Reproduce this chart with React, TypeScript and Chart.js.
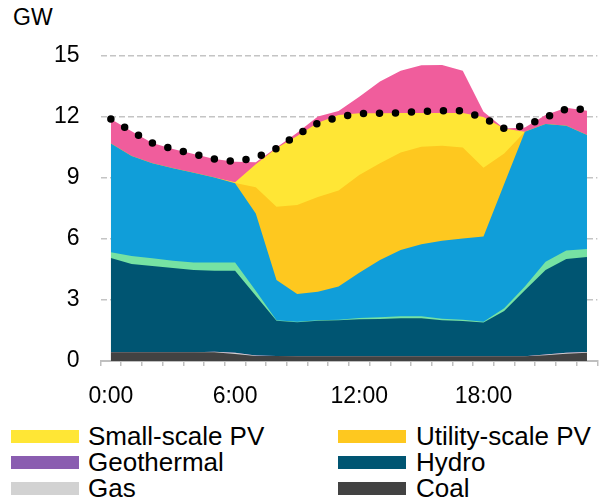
import React, { useEffect, useRef } from 'react';
import { Chart, registerables } from 'chart.js';

Chart.register(...registerables);

const FONT = '"Liberation Sans", Arial, Helvetica, sans-serif';

const CATEGORIES = [
  '0:00', '1:00', '2:00', '3:00', '4:00', '5:00', '6:00', '7:00', '8:00', '9:00', '10:00', '11:00',
  '12:00', '13:00', '14:00', '15:00', '16:00', '17:00', '18:00', '19:00', '20:00', '21:00', '22:00', '23:00',
];

const Y_TICKS = [0, 3, 6, 9, 12, 15];

// GW, stacked bottom to top
const COAL = [0.43, 0.43, 0.43, 0.43, 0.43, 0.43, 0.34, 0.25, 0.24, 0.23, 0.23, 0.23, 0.23, 0.23, 0.23, 0.23, 0.23, 0.23, 0.23, 0.23, 0.23, 0.28, 0.36, 0.41];
const GAS = [0, 0, 0, 0, 0, 0.02, 0.06, 0.02, 0, 0, 0, 0, 0, 0, 0, 0, 0, 0, 0, 0, 0, 0.04, 0.05, 0.03];
const GEOTHERMAL = [0, 0, 0, 0, 0, 0, 0, 0, 0, 0, 0, 0, 0, 0, 0, 0, 0, 0, 0, 0, 0, 0, 0, 0];
const HYDRO = [4.64, 4.34, 4.24, 4.14, 4.05, 3.99, 4.04, 2.94, 1.74, 1.68, 1.75, 1.77, 1.82, 1.83, 1.87, 1.87, 1.77, 1.74, 1.66, 2.23, 3.25, 4.16, 4.61, 4.68];
const WIND = [0.28, 0.39, 0.38, 0.36, 0.37, 0.4, 0.41, 0.25, 0.03, 0.02, 0.03, 0.03, 0.07, 0.09, 0.1, 0.1, 0.08, 0.06, 0.04, 0.13, 0.18, 0.4, 0.41, 0.39];
const IMPORTS = [5.35, 4.92, 4.67, 4.55, 4.41, 4.18, 3.89, 3.8, 1.97, 1.37, 1.4, 1.63, 2.22, 2.82, 3.26, 3.54, 3.84, 3.99, 4.19, 6.11, 7.62, 6.78, 6.14, 5.61];
const UTILITY_PV = [0, 0, 0, 0, 0, 0, 0.02, 1.28, 3.61, 4.37, 4.65, 4.72, 4.81, 4.75, 4.79, 4.8, 4.67, 4.48, 3.39, 1.51, 0, 0, 0, 0];
const SMALL_PV = [0, 0, 0, 0, 0, 0, 0.03, 1.14, 2.87, 3.4, 3.66, 3.72, 3.03, 2.46, 1.95, 1.66, 1.61, 1.7, 2.49, 1.23, 0, 0, 0, 0];
const EXPORTS = [1.2, 1.22, 1.0, 0.95, 0.92, 0.91, 1.01, 0.1, 0.04, 0.15, 0.3, 0.2, 0.82, 1.57, 2.08, 2.34, 2.36, 2.08, 0.26, 0, 0.2, 0.44, 0.89, 1.19];
const DEMAND = [11.9, 11.3, 10.72, 10.43, 10.18, 9.93, 9.8, 10.0, 10.45, 11.12, 11.7, 12.0, 12.17, 12.18, 12.2, 12.28, 12.31, 12.3, 11.96, 11.44, 11.56, 11.98, 12.4, 12.38];

const LEGEND_LABELS = ['Small-scale PV', 'Utility-scale PV', 'Geothermal', 'Hydro', 'Gas', 'Coal'];

const COLORS: Record<string, string> = {
  'Small-scale PV': '#ffe635',
  'Utility-scale PV': '#fec81f',
  Geothermal: '#8a5db0',
  Hydro: '#005572',
  Gas: '#d2d2d2',
  Coal: '#424242',
  Wind: '#76e2a3',
  Imports: '#109ed9',
  Exports: '#f05d9c',
};

function area(label: string, data: number[]) {
  const c = COLORS[label];
  return {
    label,
    data,
    backgroundColor: c,
    borderColor: c,
    borderWidth: 0,
    pointRadius: 0,
    pointHoverRadius: 0,
    fill: 'origin',
    tension: 0,
    stack: 'gen',
    order: 0,
  };
}

export default function App() {
  const ref = useRef<HTMLCanvasElement | null>(null);

  useEffect(() => {
    if (!ref.current) return;
    const chart = new Chart(ref.current, {
      type: 'line',
      data: {
        labels: CATEGORIES,
        datasets: [
          area('Coal', COAL),
          area('Gas', GAS),
          area('Geothermal', GEOTHERMAL),
          area('Hydro', HYDRO),
          area('Wind', WIND),
          area('Imports', IMPORTS),
          area('Utility-scale PV', UTILITY_PV),
          area('Small-scale PV', SMALL_PV),
          area('Exports', EXPORTS),
          {
            label: 'Demand',
            data: DEMAND,
            borderColor: '#000000',
            backgroundColor: '#000000',
            borderWidth: 7.5,
            borderDash: [0, 16],
            borderCapStyle: 'round',
            pointRadius: 0,
            pointHoverRadius: 0,
            fill: false,
            tension: 0,
            stack: 'demand',
            order: -1,
          },
        ] as any,
      },
      options: {
        animation: false,
        responsive: true,
        maintainAspectRatio: false,
        layout: { padding: { top: 56, left: 0, right: 0.52, bottom: 0 } },
        plugins: {
          legend: { display: false },
          tooltip: { enabled: false },
          title: { display: false },
        },
        scales: {
          x: {
            type: 'category',
            offset: true,
            grid: {
              offset: true,
              drawOnChartArea: false,
              drawTicks: true,
              tickLength: 5,
              color: '#bfbfbf',
              lineWidth: 1.5,
            },
            border: { display: true, color: '#bfbfbf', width: 2 },
            ticks: {
              autoSkip: false,
              maxRotation: 0,
              minRotation: 0,
              padding: 17,
              color: '#000000',
              font: { family: FONT, size: 23 },
              callback: (_v: any, i: number) => (i % 6 === 0 ? CATEGORIES[i] : ''),
            },
            afterFit: (s: any) => {
              s.height = 49;
            },
          },
          y: {
            stacked: true,
            min: Y_TICKS[0],
            max: Y_TICKS[Y_TICKS.length - 1],
            afterBuildTicks: (s: any) => {
              s.ticks = Y_TICKS.map((v) => ({ value: v }));
            },
            ticks: {
              stepSize: 3,
              padding: 21,
              color: '#000000',
              font: { family: FONT, size: 23 },
            },
            grid: { drawTicks: false, color: '#c4c4c4', lineWidth: 1.5 },
            border: { display: false, dash: [6, 3] },
            afterFit: (s: any) => {
              s.width = 100.52;
            },
          },
        },
      } as any,
    });
    return () => chart.destroy();
  }, []);

  const rows = [0, 1, 2];
  return (
    <div style={{ position: 'fixed', left: 0, top: 0, width: 603, height: 504, background: '#fff', overflow: 'hidden', fontFamily: FONT }}>
      <div style={{ position: 'absolute', left: 13, top: 6, fontSize: 23, lineHeight: '23px', color: '#000' }}>GW</div>
      <div style={{ position: 'absolute', left: 0, top: 0, width: 604, height: 410 }}>
        <canvas ref={ref} />
      </div>
      {rows.map((r) =>
        [0, 1].map((c) => {
          const label = LEGEND_LABELS[r * 2 + c];
          const sx = c === 0 ? 11 : 338;
          const tx = c === 0 ? 88 : 416;
          return (
            <React.Fragment key={label}>
              <div style={{ position: 'absolute', left: sx, top: 430 + r * 26, width: 68, height: 13, background: COLORS[label] }} />
              <div style={{ position: 'absolute', left: tx, top: 423 + r * 26, fontSize: 26, lineHeight: '26px', color: '#000', whiteSpace: 'nowrap' }}>{label}</div>
            </React.Fragment>
          );
        })
      )}
    </div>
  );
}
